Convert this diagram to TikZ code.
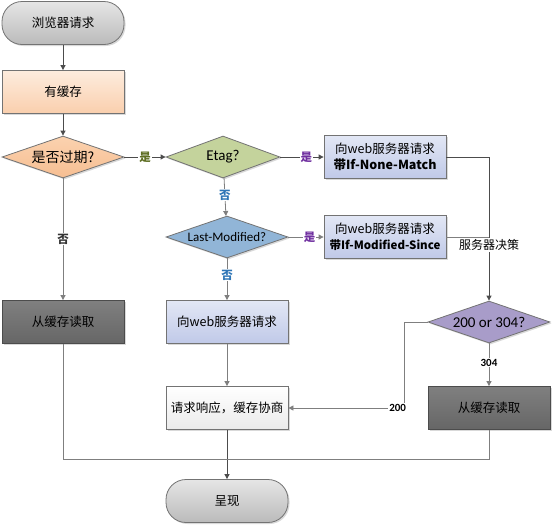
\documentclass[tikz,border=0pt]{standalone}
\usepackage{fontspec}
\setmainfont{Carlito}
\newfontfamily\cjk{Noto Sans CJK SC}
\usetikzlibrary{arrows.meta,positioning,shapes.geometric,shadows}

\definecolor{linegray}{HTML}{7F7F7F}
\definecolor{yesgreen}{HTML}{5E6E23}
\definecolor{yespurple}{HTML}{7030A0}
\definecolor{noblue}{HTML}{2E75B6}

\begin{document}
\begin{tikzpicture}[x=1pt,y=-1pt,>={Triangle[length=5pt,width=5pt]},line width=0.8pt,
  shade/.style={drop shadow={opacity=0.3,shadow xshift=1.5pt,shadow yshift=-1.5pt}},
  box/.style={draw=black!55,shade,minimum width=122pt,minimum height=43pt,inner sep=1pt,align=center,font=\cjk\fontsize{12.5}{15.5}\selectfont},
  pill/.style={box,rounded corners=20pt,top color=black!10,bottom color=black!27},
  bluebox/.style={box,top color={rgb,255:red,226;green,231;blue,245},bottom color={rgb,255:red,192;green,201;blue,232}},
  darkbox/.style={box,top color=black!50,bottom color=black!60,draw=black!70},
  decide/.style={diamond,draw=black!55,shade,aspect=2.9,inner sep=0pt,minimum width=122pt,minimum height=42pt},
  lbl/.style={fill=white,inner sep=1pt,font=\cjk\bfseries\fontsize{11.5}{13}\selectfont},
  num/.style={fill=white,inner sep=1pt,font=\bfseries\fontsize{11}{13}\selectfont},
  conn/.style={draw=linegray}]
\useasboundingbox (0,0) rectangle (554,528);

\node[pill]    (start)   at (63,23)   {浏览器请求};
\node[box,top color={rgb,255:red,253;green,236;blue,222},bottom color={rgb,255:red,250;green,207;blue,173}]
               (cache)   at (63,92)   {有缓存};
\node[decide,top color={rgb,255:red,251;green,210;blue,175},bottom color={rgb,255:red,246;green,190;blue,146},font=\cjk\fontsize{14}{16}\selectfont]
               (expired) at (63,157)  {是否过期?};
\node[decide,fill={rgb,255:red,196;green,211;blue,156},minimum width=114pt,font=\fontsize{15}{17}\selectfont]
               (etag)    at (223,157) {Etag?};
\node[bluebox] (inm)     at (385,157) {向web服务器请求\\\textbf{带If-None-Match}};
\node[decide,fill={rgb,255:red,145;green,181;blue,215},font=\fontsize{13}{15}\selectfont]
               (lm)      at (227,237) {Last-Modified?};
\node[bluebox] (ims)     at (385,237) {向web服务器请求\\\textbf{\fontsize{11.5}{14}\selectfont 带If-Modified-Since}};
\node[decide,fill={rgb,255:red,168;green,156;blue,201},font=\fontsize{15}{17}\selectfont]
               (srv)     at (489,322) {200 or 304?};
\node[darkbox] (readL)   at (63,322)  {从缓存读取};
\node[bluebox] (req)     at (227,322) {向web服务器请求};
\node[darkbox] (readR)   at (489,408) {从缓存读取};
\node[box,top color=white,bottom color=black!8]
               (resp)    at (227,408) {请求响应，缓存协商};
\node[pill]    (show)    at (227,501) {呈现};
\coordinate    (merge)   at (227,459);

% main flow
\draw[->,draw=black!70] (start) -- (cache);
\draw[->,draw=black!70] (cache) -- (expired);
\draw[->,draw=black!70] (expired) -- node[lbl,text=yesgreen,pos=0.5]{是} (etag);
\draw[->,draw=black!70] (etag) -- node[lbl,text=yespurple,pos=0.6]{是} (inm);
\draw[->,conn] (expired) -- node[lbl,text=black!80]{否} (readL);
\draw[->,conn] (etag) -- node[lbl,text=noblue,pos=0.45]{否} (lm);
\draw[->,conn] (lm) -- node[lbl,text=yespurple,pos=0.6]{是} (ims);
\draw[->,conn] (lm) -- node[lbl,text=noblue,pos=0.4]{否} (req);
\draw[->,conn] (req) -- (resp);
\draw[->,draw=black!70] (resp) -- (show);

% server side
\draw[->,draw=black!70] (inm.east) -| (srv.north);
\draw[conn] (ims.east) -- (ims.east -| srv.north);
\node[lbl,font=\cjk\fontsize{12}{14}\selectfont] (decision) at (489,245) {服务器决策};
\draw[->,conn] (srv) -- node[num,pos=0.45]{304} (readR);
\draw[->,conn] (srv.west) -- ++(-23,0) |- (resp.east)
  node[num,pos=0.53]{200};

% back to the result
\draw[conn] (readL.south) |- (merge);
\draw[conn] (readR.south) |- (merge);
\end{tikzpicture}
\end{document}
